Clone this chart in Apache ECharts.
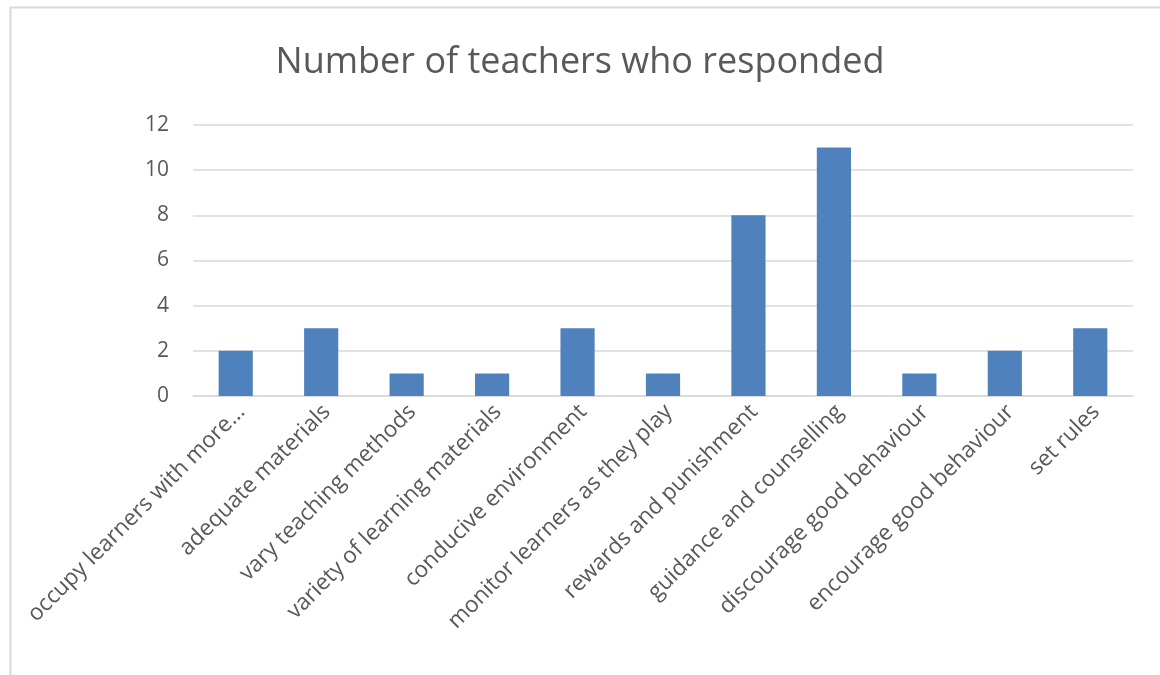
<!DOCTYPE html>
<html><head><meta charset="utf-8">
<script src="https://cdn.jsdelivr.net/npm/echarts@6/dist/echarts.min.js"></script>
<style>html,body{margin:0;padding:0;background:#fff}#c{width:1160px;height:675px}</style>
</head><body><div id="c"></div>
<script>
const categories = ["occupy learners with more…","adequate materials","vary teaching methods","variety of learning materials","conducive environment","monitor learners as they play","rewards and punishment","guidance and counselling","discourage good behaviour","encourage good behaviour","set rules"];
const values = [2,3,1,1,3,1,8,11,1,2,3];
const yTicks = {min:0,max:12,interval:2};
const chart = echarts.init(document.getElementById('c'));
const font = '"Open Sans", "Noto Sans", sans-serif';
chart.setOption({
  animation:false,
  graphic:[{type:'rect',shape:{x:10.5,y:7.5,width:1200,height:700},style:{fill:'none',stroke:'#d9d9d9',lineWidth:2},silent:true}],
  title:{text:'Number of teachers who responded',left:'center',top:40,textStyle:{fontFamily:font,fontSize:36,fontWeight:'normal',color:'#595959'}},
  grid:{left:193,right:27,top:125,bottom:279,containLabel:false},
  xAxis:{type:'category',data:categories,axisLine:{lineStyle:{color:'#d9d9d9',width:1.5}},axisTick:{show:false},
    axisLabel:{rotate:45,interval:0,fontFamily:font,fontSize:22.5,color:'#595959',margin:18,padding:[0,-8,0,0]}},
  yAxis:{type:'value',min:yTicks.min,max:yTicks.max,interval:yTicks.interval,axisLine:{show:false},axisTick:{show:false},
    splitLine:{lineStyle:{color:'#d9d9d9',width:1.5}},axisLabel:{fontFamily:font,fontSize:21,color:'#595959',margin:24}},
  series:[{type:'bar',data:values,barWidth:'40%',itemStyle:{color:'#4F81BD'}}]
});
</script></body></html>
